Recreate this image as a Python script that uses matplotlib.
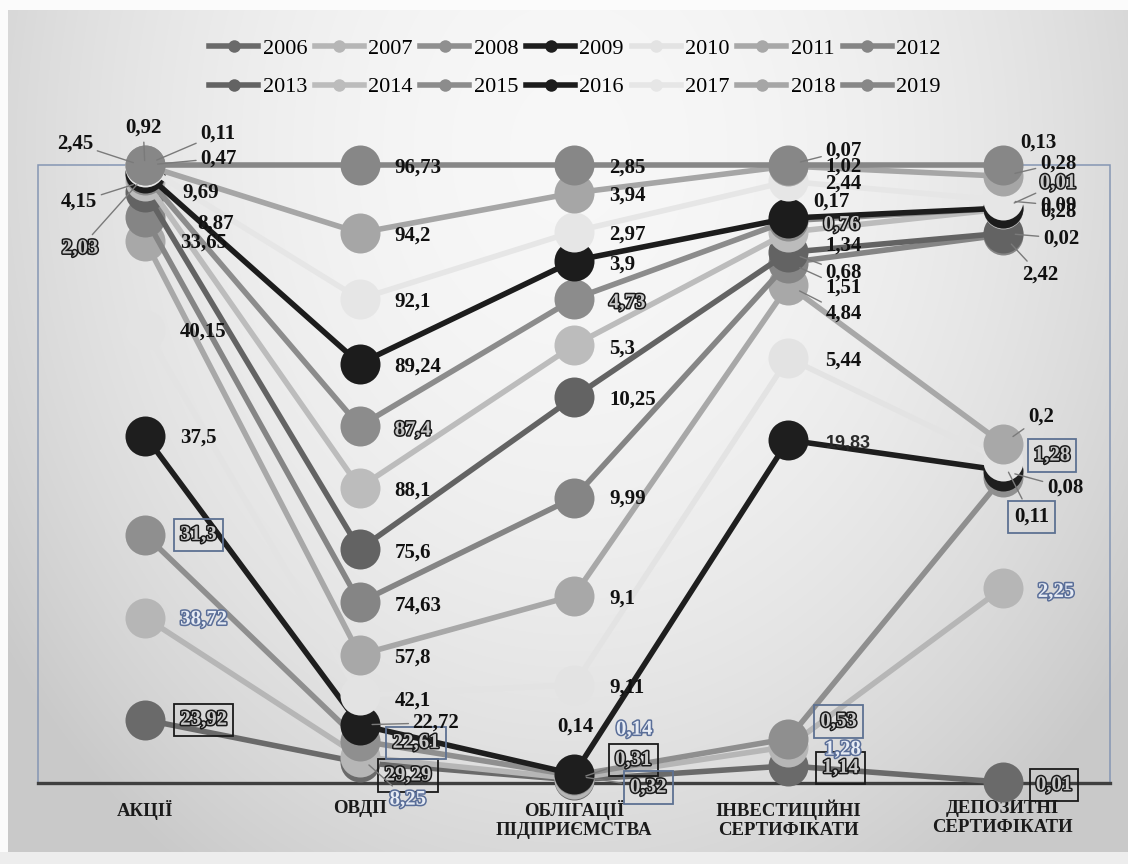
import numpy as np
import matplotlib.pyplot as plt
import matplotlib.patheffects as pe
from matplotlib.lines import Line2D
from matplotlib.patches import Rectangle

categories = ["АКЦІЇ", "ОВДП", "ОБЛІГАЦІЇ\nПІДПРИЄМСТВА",
              "ІНВЕСТИЦІЙНІ\nСЕРТИФІКАТИ", "ДЕПОЗИТНІ\nСЕРТИФІКАТИ"]
years = [2006, 2007, 2008, 2009, 2010, 2011, 2012,
         2013, 2014, 2015, 2016, 2017, 2018, 2019]

# shares by year for each instrument, %
akcii = [23.92, 38.72, 31.3, 37.5, 40.15, 33.65, 8.87,
         9.69, 4.15, 2.03, 0.92, 2.45, 0.47, 0.11]
ovdp = [29.29, 8.25, 22.61, 22.72, 42.1, 57.8, 74.63,
        75.6, 88.1, 87.4, 89.24, 92.1, 94.2, 96.73]
bonds = [0.31, 0.14, 0.32, 0.14, 9.11, 9.1, 9.99,
         10.25, 5.3, 4.73, 3.9, 2.97, 3.94, 2.85]
inv_cert = [1.14, 1.28, 0.53, 19.83, 5.44, 4.84, 1.51,
            0.68, 1.34, 0.76, 0.17, 2.44, 1.02, 0.07]
dep_cert = [0.01, 2.25, 1.28, 0.08, 0.11, 0.2, 2.42,
            0.02, 0.28, 0.01, 0.0, 0.09, 0.28, 0.13]

colors = ["#6a6a6a", "#b6b6b6", "#8f8f8f", "#1e1e1e", "#e3e3e3", "#a8a8a8", "#858585",
          "#636363", "#bcbcbc", "#8c8c8c", "#1c1c1c", "#e6e6e6", "#a6a6a6", "#878787"]

W, H = 1128, 864
fig = plt.figure(figsize=(W / 100, H / 100), dpi=100)

# soft radial background panel
bg = fig.add_axes([0, 0, 1, 1], zorder=-10)
yy, xx = np.mgrid[0:H, 0:W]
r2 = ((xx - 570) / 600.0) ** 2 + ((yy - 150) / 750.0) ** 2
shade = np.clip(0.97 - 0.135 * r2, 0.79, 1.0)
shade[:10, :] = 0.985
shade[:, :8] = 0.985
shade[852:, :] = 0.93
bg.imshow(np.dstack([shade] * 3), extent=(0, W, H, 0), aspect="auto")
bg.set_xlim(0, W)
bg.set_ylim(H, 0)
bg.axis("off")

ax = fig.add_axes([38 / W, (H - 783) / H, 1072 / W, 618 / H])
ax.set_facecolor("none")
ax.set_xlim(-0.5, 4.5)
ax.set_ylim(0, 100)

vals = np.array([akcii, ovdp, bonds, inv_cert, dep_cert]).T
cum = vals.cumsum(axis=0) / vals.sum(axis=0) * 100
x = np.arange(len(categories))

for i, yr in enumerate(years):
    ax.plot(x, cum[i], color=colors[i], lw=4, marker="o", ms=28.8, mew=0,
            zorder=3 + i * 0.1, clip_on=False, solid_capstyle="round")

# label placement: pixel offset from the point and alignment
label_pos = {
    (0, 2006): (35, 0), (0, 2007): (35, -2), (0, 2008): (35, 0), (0, 2009): (35, -2),
    (0, 2010): (35, -2), (0, 2011): (35, -2), (0, 2012): (52, -6), (0, 2013): (37, -1),
    (0, 2014): (-48, -21, "right"), (0, 2015): (-47, -73, "right"),
    (0, 2016): (-2, 45, "center"), (0, 2017): (-52, 23, "right"),
    (0, 2018): (55, 7), (0, 2019): (55, 31),
    (1, 2009): (53, 2), (1, 2008): (33, -2), (1, 2006): (25, -13), (1, 2007): (30, -43),
    (1, 2010): (35, -5), (1, 2015): (35, -4),
    (2, 2009): (1, 47, "center"), (2, 2007): (42, 49), (2, 2006): (41, 20), (2, 2008): (56, -12),
    (2, 2016): (35, -4), (2, 2015): (35, -4), (2, 2013): (35, -2), (2, 2012): (35, -1),
    (3, 2019): (37, 14), (3, 2018): (37, -1), (3, 2017): (37, -2), (3, 2016): (25, 17),
    (3, 2015): (35, -4), (3, 2014): (37, -13), (3, 2013): (37, -20), (3, 2012): (37, -25),
    (3, 2011): (37, -28), (3, 2010): (37, -2), (3, 2009): (37, -3), (3, 2008): (32, 17),
    (3, 2007): (36, -3), (3, 2006): (34, -2),
    (4, 2019): (17, 22), (4, 2018): (37, 13), (4, 2015): (37, 25), (4, 2017): (37, -5),
    (4, 2014): (37, -3), (4, 2013): (40, -5), (4, 2012): (19, -40), (4, 2011): (25, 27),
    (4, 2008): (31, 22), (4, 2009): (44, -17), (4, 2010): (11, -56), (4, 2007): (35, -4),
    (4, 2006): (33, -3),
}
leaders = {(0, 2014), (0, 2015), (0, 2016), (0, 2017), (0, 2018), (0, 2019),
           (1, 2009), (1, 2007), (2, 2006), (2, 2008),
           (3, 2019), (3, 2013), (3, 2012), (3, 2011),
           (4, 2018), (4, 2015), (4, 2017), (4, 2013), (4, 2012), (4, 2011),
           (4, 2009), (4, 2010)}
hollow = {2006, 2008, 2015}
blue_text = {2007}
boxed_black = {2006}
boxed_blue = {2008}
skip = {(4, 2016)}

for c in range(len(categories)):
    for i, yr in enumerate(years):
        if (c, yr) in skip:
            continue
        pos = label_pos.get((c, yr), (35, -3))
        dx, dy = pos[0], pos[1]
        ha = pos[2] if len(pos) > 2 else "left"
        txt = f"{vals[i, c]:g}".replace(".", ",")
        kw = dict(color="#111111")
        fam = "Liberation Serif"
        weight = "bold"
        size = 15
        if yr in hollow:
            kw = dict(color="#c8c8c8",
                      path_effects=[pe.withStroke(linewidth=2.2, foreground="#1a1a1a")])
        if yr in blue_text:
            kw = dict(color="#e6ebf4",
                      path_effects=[pe.withStroke(linewidth=2.2, foreground="#5a6e98")])
        if yr in boxed_black:
            kw["bbox"] = dict(boxstyle="square,pad=0.3", fc="none", ec="#1a1a1a", lw=1.3)
        if yr in boxed_blue or (c, yr) == (4, 2010):
            kw["bbox"] = dict(boxstyle="square,pad=0.3", fc="none", ec="#5d7192", lw=1.3)
        if (c, yr) == (3, 2009):
            fam, weight, size = "Liberation Sans", "bold", 13
            kw = dict(color="#2a2a2a")
        arrow = None
        if (c, yr) in leaders:
            arrow = dict(arrowstyle="-", color="#7a7a7a", lw=1, shrinkA=1, shrinkB=9)
        ax.annotate(txt, (x[c], cum[i, c]), xytext=(dx, dy), textcoords="offset pixels",
                    ha=ha, va="center", fontsize=size, fontweight=weight, family=fam,
                    zorder=20, annotation_clip=False, arrowprops=arrow, **kw)

# axes styling
for s in ["left", "right", "top"]:
    ax.spines[s].set_visible(False)
ax.spines["bottom"].set_color("#3f3f3f")
ax.spines["bottom"].set_linewidth(2.4)
ax.spines["bottom"].set_zorder(2)
ax.add_patch(Rectangle((0, 0), 1, 1, transform=ax.transAxes, fill=False,
                       ec="#8596b3", lw=1.1, zorder=1, clip_on=False))
ax.set_yticks([])
ax.set_xticks(x)
ax.set_xticklabels(categories, family="Liberation Serif", fontweight="bold",
                   fontsize=13.5, color="#1a1a1a", linespacing=1.15)
ax.tick_params(axis="x", length=0, pad=12)

handles = [Line2D([0], [0], color=colors[i], lw=4, marker="o", ms=9, mew=0)
           for i in range(len(years))]
order = [0, 7, 1, 8, 2, 9, 3, 10, 4, 11, 5, 12, 6, 13]
fig.legend([handles[k] for k in order], [str(years[k]) for k in order],
           loc="center", bbox_to_anchor=(575 / W, 1 - 68 / H), ncol=7, frameon=False,
           prop=dict(family="Liberation Serif", size=16), handlelength=2.2,
           handletextpad=0.2, columnspacing=0.35, labelspacing=0.8)

fig.savefig("out.png", dpi=100)
